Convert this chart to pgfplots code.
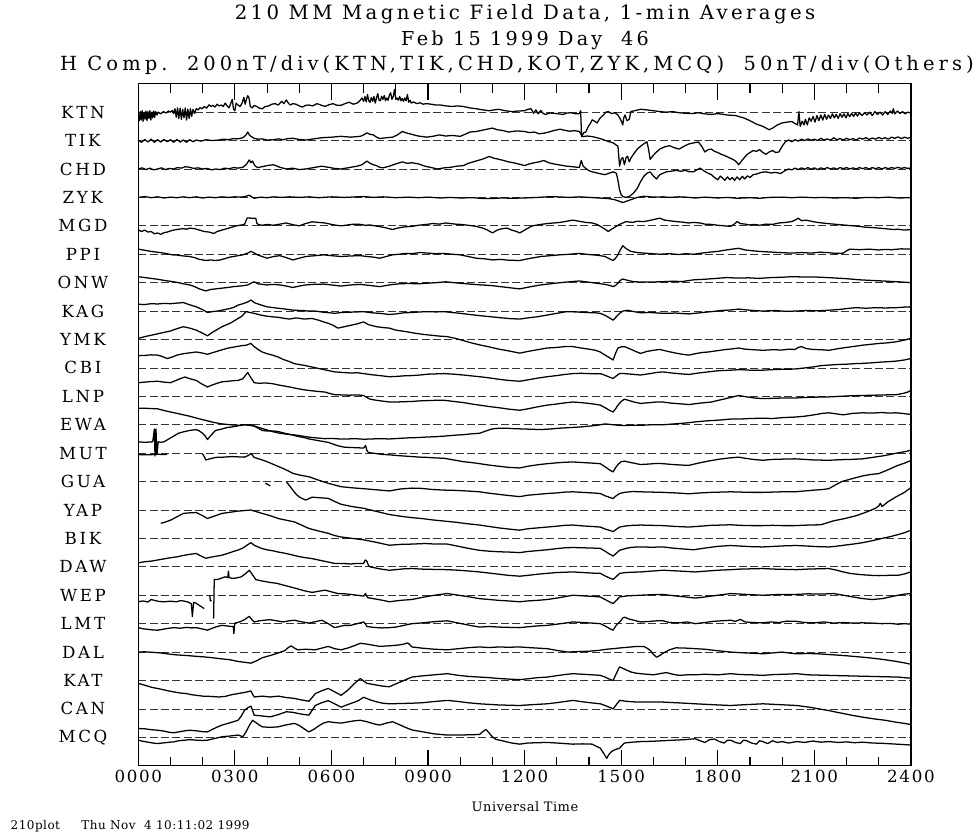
\documentclass[border=0pt]{standalone}
\usepackage{fontspec}
\setmainfont{DejaVu Serif}
\newfontfamily\ttlfont{DejaVu Serif}[LetterSpace=17]
\newfontfamily\widettl{DejaVu Serif}[LetterSpace=21]
\newfontfamily\tickfont{DejaVu Serif}[LetterSpace=10]
\newfontfamily\stafont{DejaVu Serif}[LetterSpace=16]
\newfontfamily\smallfont{DejaVu Serif}[LetterSpace=4]
\usepackage{pgfplots}
\pgfplotsset{compat=1.18}

\begin{document}
\begin{tikzpicture}
\useasboundingbox (0,0) rectangle (731.25pt,-624.75pt);
\begin{axis}[
    at={(103.7pt,-574.3pt)}, anchor=south west,
    scale only axis, width=579.5pt, height=511.5pt,
    xmin=0, xmax=2400, ymin=-23, ymax=1,
    xtick={0,300,...,2400},
    xticklabels={0000,0300,0600,0900,1200,1500,1800,2100,2400},
    minor x tick num=2,
    ytick={0,-1,...,-22},
    yticklabels={KTN,TIK,CHD,ZYK,MGD,PPI,ONW,KAG,YMK,CBI,LNP,EWA,MUT,GUA,YAP,BIK,DAW,WEP,LMT,DAL,KAT,CAN,MCQ},
    ytick style={draw=none},
    ymajorgrids,
    major grid style={black!80, dash pattern=on 6pt off 2.5pt, line width=0.6pt},
    tick align=inside,
    major tick length=12pt, minor tick length=6.75pt,
    tick style={black, line width=0.8pt},
    axis line style={line width=1pt},
    xticklabel style={font=\tickfont\fontsize{12.5}{15}\selectfont},
    yticklabel style={font=\stafont\fontsize{12.5}{15}\selectfont, anchor=center, xshift=-41.5pt},
    trace/.style={black, line width=0.95pt, line join=round},
]
% KTN
\addplot[trace] table[row sep=\\, y expr=\thisrowno{1}-0] {
0 -0.1\\ 3 -0.3\\ 6 0.02\\ 9 -0.28\\ 12 0.05\\ 15 -0.32\\ 18 0.0\\ 21 -0.25\\ 24 0.04\\ 27 -0.3\\ 30 0.02\\ 33 -0.22\\
36 0.05\\ 39 -0.28\\ 42 0.0\\ 45 -0.2\\ 48 0.04\\ 51 -0.18\\ 54 0.02\\ 58 -0.1\\ 62 0.0\\ 70 -0.06\\ 78 0.02\\ 86 -0.03\\
94 0.04\\ 100 0.0\\ 106 0.06\\ 110 -0.05\\ 114 0.12\\ 118 -0.18\\ 122 0.15\\ 126 -0.22\\ 130 0.14\\ 134 -0.25\\ 138 0.1\\
142 -0.2\\ 146 0.15\\ 150 -0.28\\ 154 0.1\\ 158 -0.22\\ 162 0.12\\ 166 -0.15\\ 170 0.1\\ 175 -0.05\\ 180 0.12\\ 186 0.08\\
192 0.16\\ 198 0.12\\ 205 0.2\\ 212 0.14\\ 220 0.26\\ 226 0.2\\ 232 0.24\\ 238 0.18\\ 245 0.28\\ 251 0.22\\ 258 0.25\\
264 0.2\\ 270 0.32\\ 276 0.22\\ 282 0.15\\ 287 0.3\\ 292 0.45\\ 296 0.1\\ 300 0.05\\ 304 0.32\\ 310 0.25\\ 316 0.2\\
322 0.3\\ 328 0.52\\ 332 0.28\\ 336 0.45\\ 340 0.58\\ 344 0.5\\ 348 0.2\\ 354 0.15\\ 360 0.24\\ 368 0.2\\ 376 0.14\\
385 0.12\\ 395 0.2\\ 405 0.22\\ 415 0.28\\ 425 0.3\\ 435 0.25\\ 445 0.38\\ 452 0.3\\ 460 0.43\\ 466 0.32\\ 472 0.25\\
480 0.3\\ 490 0.28\\ 500 0.22\\ 510 0.18\\ 520 0.24\\ 530 0.25\\ 542 0.22\\ 555 0.3\\ 567 0.25\\ 580 0.2\\ 592 0.26\\
605 0.3\\ 617 0.24\\ 630 0.24\\ 642 0.3\\ 655 0.35\\ 668 0.28\\ 680 0.32\\ 688 0.4\\ 695 0.5\\ 700 0.38\\ 704 0.55\\
708 0.36\\ 712 0.62\\ 716 0.4\\ 720 0.35\\ 724 0.52\\ 728 0.38\\ 732 0.55\\ 736 0.32\\ 740 0.5\\ 744 0.65\\ 748 0.42\\
752 0.4\\ 756 0.56\\ 760 0.45\\ 764 0.58\\ 768 0.4\\ 772 0.5\\ 776 0.42\\ 780 0.6\\ 784 0.68\\ 788 0.45\\ 792 0.55\\
796 0.8\\ 800 0.45\\ 804 0.5\\ 808 0.42\\ 812 0.55\\ 816 0.4\\ 820 0.48\\ 824 0.38\\ 828 0.5\\ 832 0.4\\ 836 0.62\\
840 0.35\\ 844 0.42\\ 848 0.32\\ 855 0.36\\ 865 0.3\\ 875 0.33\\ 885 0.28\\ 895 0.3\\ 910 0.28\\ 925 0.25\\ 940 0.25\\
955 0.22\\ 975 0.2\\ 990 0.22\\ 1010 0.2\\ 1030 0.15\\ 1050 0.12\\ 1070 0.08\\ 1090 0.05\\ 1105 0.08\\ 1120 0.1\\
1140 0.05\\ 1160 0.02\\ 1180 0.04\\ 1200 0.05\\ 1210 0.1\\ 1220 0.12\\ 1228 -0.04\\ 1235 0.08\\ 1242 -0.06\\ 1250 0.06\\
1258 -0.05\\ 1265 -0.08\\ 1278 -0.03\\ 1290 -0.04\\ 1305 -0.06\\ 1320 -0.08\\ 1332 -0.03\\ 1345 -0.02\\ 1358 -0.06\\
1370 -0.05\\ 1374 0.05\\ 1377 -0.86\\ 1384 -0.72\\ 1390 -0.7\\ 1398 -0.5\\ 1404 -0.4\\ 1410 -0.27\\ 1418 -0.32\\
1425 -0.38\\ 1435 -0.2\\ 1445 -0.1\\ 1452 0.0\\ 1460 0.02\\ 1470 -0.05\\ 1480 -0.02\\ 1490 -0.1\\ 1500 -0.3\\ 1505 -0.45\\
1508 -0.2\\ 1512 -0.1\\ 1518 -0.3\\ 1525 -0.25\\ 1530 0.02\\ 1545 0.06\\ 1560 0.1\\ 1580 0.08\\ 1600 0.05\\ 1620 0.02\\
1640 0.0\\ 1660 0.02\\ 1680 -0.02\\ 1700 -0.04\\ 1720 -0.05\\ 1740 -0.02\\ 1760 -0.06\\ 1780 -0.08\\ 1800 -0.05\\
1830 -0.1\\ 1855 -0.12\\ 1880 -0.2\\ 1900 -0.3\\ 1920 -0.42\\ 1940 -0.5\\ 1960 -0.62\\ 1972 -0.55\\ 1985 -0.45\\
2000 -0.38\\ 2015 -0.35\\ 2030 -0.33\\ 2040 -0.4\\ 2048 -0.45\\ 2052 0.02\\ 2056 -0.5\\ 2062 -0.32\\ 2068 -0.45\\
2072 -0.25\\ 2078 -0.45\\ 2084 -0.2\\ 2090 -0.32\\ 2096 -0.15\\ 2102 -0.35\\ 2108 -0.12\\ 2114 -0.3\\ 2120 -0.1\\
2126 -0.28\\ 2132 -0.08\\ 2138 -0.25\\ 2144 -0.1\\ 2150 -0.22\\ 2156 -0.06\\ 2162 -0.2\\ 2168 -0.08\\ 2174 -0.22\\
2180 -0.05\\ 2186 -0.18\\ 2192 -0.06\\ 2198 -0.2\\ 2204 -0.05\\ 2210 -0.16\\ 2216 -0.04\\ 2222 -0.15\\ 2228 -0.03\\
2234 -0.14\\ 2240 -0.02\\ 2248 -0.12\\ 2256 -0.02\\ 2264 -0.1\\ 2272 0.0\\ 2280 -0.12\\ 2288 0.02\\ 2296 -0.08\\
2304 0.0\\ 2312 -0.1\\ 2320 0.02\\ 2328 -0.08\\ 2336 0.04\\ 2342 -0.04\\ 2345 0.12\\ 2350 -0.06\\ 2358 0.04\\
2366 -0.05\\ 2374 0.02\\ 2382 -0.06\\ 2390 0.0\\ 2400 -0.03\\
};
% TIK
\addplot[trace] table[row sep=\\, y expr=\thisrowno{1}-1] {
0 0.0\\ 10 -0.06\\ 20 0.04\\ 30 -0.05\\ 40 0.05\\ 50 -0.06\\ 60 0.03\\ 70 -0.05\\ 80 0.04\\ 90 -0.04\\ 100 0.03\\
110 -0.06\\ 120 0.04\\ 130 -0.05\\ 140 0.02\\ 150 -0.06\\ 160 0.03\\ 170 -0.04\\ 180 0.02\\ 195 -0.02\\ 210 0.03\\
230 0.0\\ 250 0.02\\ 265 0.05\\ 280 0.03\\ 295 0.07\\ 310 0.06\\ 325 0.1\\ 335 0.2\\ 340 0.3\\ 345 0.2\\ 350 0.15\\
360 0.08\\ 370 0.05\\ 385 0.06\\ 400 0.02\\ 420 0.03\\ 435 0.06\\ 450 0.03\\ 465 0.07\\ 480 0.08\\ 500 0.04\\ 520 0.02\\
545 0.06\\ 570 0.1\\ 600 0.12\\ 630 0.15\\ 660 0.12\\ 690 0.15\\ 700 0.2\\ 710 0.27\\ 720 0.22\\ 730 0.2\\ 740 0.12\\
750 0.07\\ 770 0.1\\ 790 0.12\\ 805 0.2\\ 820 0.32\\ 835 0.26\\ 850 0.22\\ 862 0.18\\ 875 0.15\\ 885 0.14\\ 895 0.12\\
915 0.15\\ 935 0.2\\ 955 0.16\\ 975 0.18\\ 1000 0.15\\ 1015 0.22\\ 1030 0.3\\ 1050 0.32\\ 1075 0.38\\ 1100 0.44\\
1115 0.38\\ 1130 0.36\\ 1150 0.3\\ 1175 0.34\\ 1200 0.32\\ 1215 0.28\\ 1230 0.3\\ 1245 0.24\\ 1260 0.26\\ 1275 0.3\\
1290 0.35\\ 1310 0.4\\ 1325 0.36\\ 1340 0.33\\ 1355 0.35\\ 1370 0.32\\ 1380 0.14\\ 1395 0.16\\ 1410 0.14\\ 1425 0.1\\
1440 0.05\\ 1460 -0.03\\ 1475 -0.08\\ 1490 -0.2\\ 1495 -0.9\\ 1500 -0.65\\ 1505 -0.6\\ 1510 -0.85\\ 1515 -0.6\\
1520 -0.55\\ 1525 -0.75\\ 1530 -0.62\\ 1540 -0.45\\ 1550 -0.3\\ 1560 -0.2\\ 1570 -0.12\\ 1580 -0.04\\ 1585 -0.3\\
1590 -0.66\\ 1605 -0.45\\ 1620 -0.3\\ 1635 -0.22\\ 1650 -0.18\\ 1665 -0.25\\ 1680 -0.3\\ 1695 -0.2\\ 1710 -0.12\\
1725 -0.08\\ 1740 -0.05\\ 1750 -0.2\\ 1760 -0.4\\ 1770 -0.32\\ 1780 -0.3\\ 1790 -0.38\\ 1800 -0.42\\ 1810 -0.48\\
1820 -0.52\\ 1835 -0.6\\ 1850 -0.68\\ 1858 -0.75\\ 1865 -0.85\\ 1875 -0.7\\ 1890 -0.5\\ 1900 -0.42\\ 1910 -0.35\\
1920 -0.38\\ 1930 -0.32\\ 1940 -0.42\\ 1950 -0.48\\ 1960 -0.4\\ 1970 -0.35\\ 1980 -0.42\\ 1990 -0.4\\ 2000 -0.2\\
2010 -0.04\\ 2020 0.02\\ 2030 -0.04\\ 2040 0.03\\ 2050 -0.02\\ 2060 0.05\\ 2070 0.0\\ 2080 0.06\\ 2090 0.01\\ 2100 0.05\\
2110 0.0\\ 2120 0.08\\ 2130 0.02\\ 2140 0.06\\ 2150 0.01\\ 2160 0.1\\ 2170 0.03\\ 2180 0.07\\ 2190 0.02\\ 2200 0.08\\
2210 0.03\\ 2220 0.07\\ 2230 0.02\\ 2240 0.09\\ 2250 0.05\\ 2260 0.1\\ 2270 0.04\\ 2280 0.09\\ 2290 0.05\\ 2300 0.11\\
2310 0.06\\ 2320 0.1\\ 2330 0.05\\ 2340 0.12\\ 2350 0.08\\ 2360 0.13\\ 2370 0.07\\ 2380 0.12\\ 2390 0.08\\ 2400 0.12\\
};
% CHD
\addplot[trace] table[row sep=\\, y expr=\thisrowno{1}-2] {
0 0.0\\ 12 0.04\\ 24 -0.02\\ 36 0.03\\ 48 -0.03\\ 60 0.0\\ 72 0.04\\ 84 -0.02\\ 96 0.02\\ 110 0.0\\ 122 0.05\\ 134 0.03\\
146 0.08\\ 160 0.06\\ 172 0.02\\ 186 0.04\\ 200 0.0\\ 214 0.02\\ 228 -0.03\\ 240 0.0\\ 254 -0.02\\ 268 0.03\\ 282 0.01\\
296 0.05\\ 310 0.03\\ 325 0.06\\ 335 0.15\\ 345 0.32\\ 350 0.22\\ 355 0.28\\ 362 0.12\\ 370 0.05\\ 385 0.08\\ 400 0.12\\
420 0.15\\ 440 0.06\\ 460 0.0\\ 480 0.03\\ 500 -0.02\\ 520 0.0\\ 545 0.05\\ 570 0.1\\ 590 0.06\\ 610 0.02\\ 630 0.0\\
655 0.05\\ 680 0.1\\ 695 0.15\\ 710 0.28\\ 720 0.2\\ 730 0.15\\ 740 0.12\\ 750 0.06\\ 760 0.04\\ 780 0.1\\ 800 0.18\\
820 0.25\\ 835 0.2\\ 850 0.22\\ 870 0.18\\ 890 0.1\\ 910 0.05\\ 930 0.0\\ 950 0.04\\ 970 0.06\\ 990 0.1\\ 1010 0.12\\
1025 0.2\\ 1040 0.25\\ 1055 0.3\\ 1070 0.35\\ 1090 0.44\\ 1105 0.38\\ 1120 0.34\\ 1135 0.3\\ 1150 0.25\\ 1165 0.22\\
1180 0.18\\ 1200 0.12\\ 1215 0.18\\ 1230 0.22\\ 1245 0.25\\ 1260 0.3\\ 1275 0.22\\ 1290 0.18\\ 1310 0.14\\ 1330 0.1\\
1350 0.08\\ 1370 0.05\\ 1376 0.3\\ 1382 0.1\\ 1390 0.02\\ 1400 -0.06\\ 1410 -0.1\\ 1425 -0.14\\ 1440 -0.18\\ 1450 -0.2\\
1462 -0.15\\ 1475 -0.1\\ 1485 -0.15\\ 1490 -0.4\\ 1495 -0.74\\ 1500 -0.9\\ 1505 -0.97\\ 1515 -1.0\\ 1525 -0.97\\
1538 -0.85\\ 1550 -0.68\\ 1560 -0.45\\ 1570 -0.26\\ 1580 -0.15\\ 1590 -0.1\\ 1600 -0.25\\ 1610 -0.35\\ 1620 -0.2\\
1630 -0.15\\ 1640 -0.1\\ 1655 -0.08\\ 1670 -0.05\\ 1685 -0.08\\ 1700 -0.05\\ 1712 -0.1\\ 1725 -0.1\\ 1735 -0.03\\
1745 0.03\\ 1755 -0.05\\ 1765 -0.12\\ 1780 -0.2\\ 1790 -0.3\\ 1800 -0.38\\ 1808 -0.25\\ 1815 -0.32\\ 1822 -0.4\\
1830 -0.28\\ 1838 -0.38\\ 1845 -0.3\\ 1852 -0.4\\ 1860 -0.28\\ 1868 -0.38\\ 1876 -0.26\\ 1884 -0.35\\ 1892 -0.24\\
1900 -0.3\\ 1910 -0.2\\ 1920 -0.18\\ 1935 -0.12\\ 1950 -0.1\\ 1965 -0.14\\ 1980 -0.12\\ 1995 -0.16\\ 2010 -0.05\\
2020 0.0\\ 2030 -0.03\\ 2040 0.03\\ 2050 -0.02\\ 2060 0.04\\ 2070 -0.01\\ 2080 0.05\\ 2090 -0.01\\ 2100 0.04\\
2110 -0.02\\ 2120 0.04\\ 2130 0.0\\ 2140 0.05\\ 2150 0.0\\ 2160 0.04\\ 2170 -0.01\\ 2180 0.05\\ 2190 0.01\\ 2200 0.05\\
2210 0.0\\ 2220 0.04\\ 2230 0.0\\ 2240 0.05\\ 2250 0.01\\ 2260 0.05\\ 2270 0.0\\ 2280 0.05\\ 2290 0.01\\ 2300 0.05\\
2310 0.0\\ 2320 0.05\\ 2330 0.01\\ 2340 0.05\\ 2350 0.02\\ 2360 0.06\\ 2370 0.02\\ 2380 0.05\\ 2390 0.02\\ 2400 0.04\\
};
% ZYK
\addplot[trace] table[row sep=\\, y expr=\thisrowno{1}-3] {
0 0.0\\ 20 0.03\\ 40 -0.01\\ 60 0.02\\ 80 -0.02\\ 100 0.01\\ 120 -0.01\\ 140 0.02\\ 160 -0.01\\ 180 0.02\\ 200 -0.02\\
220 0.01\\ 240 -0.01\\ 260 0.02\\ 280 0.0\\ 300 0.02\\ 320 0.01\\ 335 0.04\\ 345 0.08\\ 352 0.02\\ 360 -0.03\\ 380 0.01\\
400 -0.01\\ 420 0.02\\ 445 0.0\\ 470 0.02\\ 500 0.0\\ 530 0.02\\ 560 -0.01\\ 600 0.02\\ 640 0.0\\ 680 0.02\\ 700 0.03\\
730 0.0\\ 760 0.02\\ 800 -0.01\\ 840 0.01\\ 870 -0.01\\ 900 0.01\\ 940 -0.02\\ 970 0.0\\ 1000 -0.02\\ 1040 -0.01\\
1070 -0.04\\ 1100 -0.04\\ 1130 -0.02\\ 1160 -0.03\\ 1200 -0.02\\ 1240 0.0\\ 1270 0.02\\ 1300 0.02\\ 1340 0.0\\
1370 0.02\\ 1400 0.0\\ 1430 -0.02\\ 1460 -0.04\\ 1480 -0.08\\ 1495 -0.14\\ 1505 -0.18\\ 1520 -0.12\\ 1535 -0.06\\
1550 0.0\\ 1570 0.04\\ 1600 0.01\\ 1630 0.02\\ 1650 0.0\\ 1680 0.02\\ 1700 0.01\\ 1730 -0.02\\ 1760 0.01\\ 1800 -0.02\\
1830 0.0\\ 1860 -0.03\\ 1900 -0.01\\ 1930 -0.03\\ 1960 0.0\\ 2000 0.01\\ 2030 -0.01\\ 2060 0.01\\ 2100 -0.01\\
2130 0.0\\ 2160 -0.02\\ 2200 -0.01\\ 2230 -0.03\\ 2260 0.0\\ 2300 -0.01\\ 2330 0.01\\ 2360 -0.02\\ 2400 -0.01\\
};
% MGD
\addplot[trace] table[row sep=\\, y expr=\thisrowno{1}-4] {
0 -0.14\\ 10 -0.2\\ 20 -0.15\\ 30 -0.22\\ 40 -0.2\\ 50 -0.28\\ 60 -0.25\\ 70 -0.3\\ 80 -0.24\\ 90 -0.22\\ 100 -0.18\\
110 -0.15\\ 125 -0.12\\ 140 -0.1\\ 150 -0.12\\ 160 -0.08\\ 175 -0.1\\ 190 -0.15\\ 205 -0.2\\ 220 -0.22\\ 235 -0.27\\
245 -0.2\\ 260 -0.15\\ 275 -0.1\\ 290 -0.05\\ 305 0.0\\ 315 0.02\\ 330 0.05\\ 338 0.27\\ 345 0.28\\ 355 0.26\\ 365 0.27\\
368 0.1\\ 372 0.05\\ 385 0.02\\ 400 0.05\\ 420 0.02\\ 440 0.06\\ 460 0.1\\ 480 0.04\\ 500 0.0\\ 520 0.08\\ 540 0.14\\
560 0.12\\ 580 0.1\\ 600 0.05\\ 615 0.02\\ 630 0.0\\ 650 0.03\\ 670 0.06\\ 690 0.05\\ 705 0.02\\ 720 0.03\\ 745 -0.02\\
765 -0.06\\ 790 -0.13\\ 805 -0.08\\ 820 -0.05\\ 835 -0.03\\ 850 -0.02\\ 870 0.02\\ 895 0.05\\ 915 0.08\\ 935 0.06\\
955 0.1\\ 970 0.08\\ 985 0.06\\ 1000 0.05\\ 1025 0.02\\ 1050 -0.02\\ 1070 -0.08\\ 1085 -0.15\\ 1100 -0.25\\ 1115 -0.15\\
1130 -0.1\\ 1145 -0.08\\ 1160 -0.15\\ 1175 -0.2\\ 1185 -0.25\\ 1200 -0.15\\ 1215 -0.05\\ 1225 0.0\\ 1245 0.04\\
1270 0.08\\ 1290 0.1\\ 1310 0.12\\ 1330 0.16\\ 1350 0.2\\ 1370 0.16\\ 1390 0.12\\ 1410 0.1\\ 1425 0.05\\ 1440 -0.05\\
1450 -0.12\\ 1460 -0.2\\ 1470 -0.12\\ 1480 -0.05\\ 1495 0.05\\ 1515 0.15\\ 1535 0.12\\ 1550 0.16\\ 1570 0.15\\
1585 0.18\\ 1600 0.22\\ 1620 0.27\\ 1635 0.2\\ 1650 0.18\\ 1670 0.15\\ 1690 0.13\\ 1710 0.1\\ 1725 0.12\\ 1745 0.1\\
1760 0.06\\ 1780 0.05\\ 1800 0.02\\ 1820 0.0\\ 1840 -0.02\\ 1850 0.05\\ 1860 0.15\\ 1870 0.08\\ 1885 0.06\\ 1900 0.03\\
1915 0.05\\ 1930 0.02\\ 1950 0.06\\ 1970 0.05\\ 1990 0.1\\ 2010 0.12\\ 2030 0.15\\ 2040 0.2\\ 2050 0.27\\ 2060 0.18\\
2075 0.2\\ 2095 0.15\\ 2110 0.12\\ 2125 0.1\\ 2140 0.08\\ 2160 0.06\\ 2180 0.04\\ 2200 0.02\\ 2220 0.0\\ 2240 -0.02\\
2260 -0.05\\ 2280 -0.06\\ 2300 -0.08\\ 2320 -0.1\\ 2345 -0.13\\ 2360 -0.12\\ 2380 -0.15\\ 2400 -0.13\\
};
% PPI
\addplot[trace] table[row sep=\\, y expr=\thisrowno{1}-5] {
0 0.18\\ 20 0.14\\ 40 0.1\\ 60 0.07\\ 80 0.04\\ 105 -0.02\\ 120 -0.03\\ 140 -0.06\\ 160 -0.08\\ 175 -0.12\\ 190 -0.18\\
210 -0.22\\ 225 -0.2\\ 240 -0.22\\ 255 -0.2\\ 270 -0.15\\ 285 -0.1\\ 295 -0.08\\ 310 -0.05\\ 325 -0.02\\ 340 0.04\\
350 0.1\\ 358 0.06\\ 370 -0.02\\ 385 -0.08\\ 400 -0.14\\ 420 -0.08\\ 440 -0.05\\ 460 -0.12\\ 480 -0.2\\ 500 -0.14\\
520 -0.08\\ 540 -0.06\\ 560 -0.04\\ 575 -0.02\\ 600 -0.05\\ 630 -0.08\\ 660 -0.06\\ 690 -0.05\\ 710 -0.08\\ 730 -0.1\\
750 -0.14\\ 770 -0.08\\ 790 -0.02\\ 810 0.0\\ 830 0.03\\ 850 0.02\\ 875 0.06\\ 900 0.04\\ 925 0.02\\ 950 0.03\\
975 0.0\\ 1000 -0.02\\ 1025 -0.08\\ 1050 -0.14\\ 1075 -0.16\\ 1100 -0.2\\ 1125 -0.18\\ 1150 -0.21\\ 1185 -0.22\\
1210 -0.16\\ 1230 -0.12\\ 1250 -0.08\\ 1280 -0.05\\ 1310 -0.02\\ 1340 0.0\\ 1370 0.03\\ 1390 0.0\\ 1410 -0.02\\
1430 -0.04\\ 1450 -0.08\\ 1462 -0.15\\ 1475 -0.22\\ 1482 -0.15\\ 1490 -0.02\\ 1497 0.15\\ 1505 0.3\\ 1515 0.2\\
1530 0.1\\ 1550 0.06\\ 1570 0.04\\ 1595 0.02\\ 1620 0.0\\ 1650 0.02\\ 1680 -0.01\\ 1700 0.02\\ 1725 0.0\\ 1750 0.04\\
1780 0.08\\ 1800 0.1\\ 1820 0.14\\ 1845 0.18\\ 1865 0.21\\ 1885 0.15\\ 1910 0.12\\ 1930 0.1\\ 1960 0.08\\ 1990 0.06\\
2010 0.05\\ 2030 0.04\\ 2060 0.06\\ 2090 0.04\\ 2115 0.07\\ 2140 0.06\\ 2165 0.03\\ 2190 0.04\\ 2200 0.12\\ 2210 0.18\\
2240 0.16\\ 2270 0.18\\ 2300 0.15\\ 2320 0.17\\ 2340 0.16\\ 2370 0.19\\ 2400 0.18\\
};
% ONW
\addplot[trace] table[row sep=\\, y expr=\thisrowno{1}-6] {
0 0.21\\ 20 0.18\\ 40 0.15\\ 60 0.12\\ 80 0.08\\ 105 0.04\\ 125 0.0\\ 140 -0.04\\ 160 -0.08\\ 175 -0.14\\ 190 -0.22\\
210 -0.29\\ 225 -0.24\\ 240 -0.22\\ 255 -0.2\\ 270 -0.18\\ 285 -0.16\\ 295 -0.14\\ 315 -0.12\\ 330 -0.1\\ 340 -0.08\\
350 -0.02\\ 360 0.03\\ 372 -0.04\\ 385 -0.06\\ 400 -0.08\\ 420 -0.06\\ 440 -0.08\\ 460 -0.12\\ 480 -0.17\\ 500 -0.12\\
520 -0.08\\ 545 -0.06\\ 575 -0.05\\ 600 -0.08\\ 630 -0.12\\ 660 -0.08\\ 690 -0.06\\ 720 -0.1\\ 750 -0.14\\ 780 -0.08\\
810 -0.04\\ 840 -0.03\\ 870 -0.04\\ 895 -0.02\\ 925 0.0\\ 955 0.03\\ 980 0.0\\ 1000 -0.02\\ 1030 -0.05\\ 1065 -0.08\\
1095 -0.1\\ 1125 -0.14\\ 1155 -0.18\\ 1185 -0.22\\ 1215 -0.15\\ 1250 -0.08\\ 1280 -0.04\\ 1310 0.0\\ 1340 0.03\\
1370 0.06\\ 1390 0.03\\ 1410 0.0\\ 1430 -0.03\\ 1450 -0.06\\ 1465 -0.1\\ 1475 -0.14\\ 1482 -0.1\\ 1490 -0.02\\
1497 0.08\\ 1505 0.13\\ 1520 0.08\\ 1540 0.03\\ 1580 0.02\\ 1620 0.03\\ 1660 0.05\\ 1690 0.04\\ 1725 0.1\\ 1760 0.12\\
1795 0.15\\ 1830 0.18\\ 1860 0.16\\ 1895 0.17\\ 1930 0.15\\ 1965 0.18\\ 2000 0.19\\ 2030 0.21\\ 2065 0.2\\ 2100 0.2\\
2140 0.18\\ 2170 0.16\\ 2200 0.14\\ 2240 0.1\\ 2275 0.08\\ 2310 0.06\\ 2345 0.04\\ 2375 0.02\\ 2400 0.0\\
};
% KAG
\addplot[trace] table[row sep=\\, y expr=\thisrowno{1}-7] {
0 0.24\\ 20 0.23\\ 40 0.26\\ 60 0.25\\ 80 0.27\\ 100 0.26\\ 120 0.28\\ 140 0.3\\ 160 0.22\\ 180 0.15\\ 200 0.05\\
215 -0.05\\ 230 -0.02\\ 245 0.0\\ 260 0.03\\ 280 0.08\\ 295 0.12\\ 310 0.21\\ 325 0.26\\ 340 0.32\\ 350 0.39\\ 360 0.3\\
372 0.25\\ 385 0.2\\ 400 0.15\\ 420 0.12\\ 435 0.1\\ 450 0.08\\ 470 0.05\\ 485 0.03\\ 510 0.02\\ 530 0.0\\ 550 0.0\\
575 -0.04\\ 595 -0.06\\ 610 -0.08\\ 630 -0.05\\ 655 -0.04\\ 680 -0.03\\ 700 -0.02\\ 725 -0.06\\ 750 -0.08\\ 780 -0.12\\
800 -0.1\\ 825 -0.06\\ 850 -0.05\\ 875 -0.03\\ 900 -0.02\\ 925 -0.03\\ 950 -0.02\\ 975 -0.05\\ 1000 -0.08\\ 1030 -0.12\\
1060 -0.16\\ 1095 -0.2\\ 1130 -0.24\\ 1160 -0.27\\ 1185 -0.28\\ 1210 -0.24\\ 1240 -0.2\\ 1270 -0.14\\ 1300 -0.08\\
1330 -0.02\\ 1360 -0.03\\ 1390 -0.05\\ 1420 -0.06\\ 1435 -0.08\\ 1450 -0.15\\ 1465 -0.25\\ 1475 -0.32\\ 1485 -0.2\\
1495 -0.08\\ 1505 0.0\\ 1520 0.03\\ 1540 -0.02\\ 1560 -0.06\\ 1590 -0.05\\ 1630 -0.08\\ 1670 -0.07\\ 1710 -0.1\\
1745 -0.06\\ 1780 -0.02\\ 1810 0.02\\ 1840 0.04\\ 1865 0.07\\ 1900 0.03\\ 1940 0.0\\ 1980 0.02\\ 2010 -0.01\\ 2040 0.0\\
2080 0.02\\ 2110 0.01\\ 2145 0.03\\ 2180 0.06\\ 2210 0.1\\ 2230 0.12\\ 2260 0.1\\ 2290 0.12\\ 2320 0.11\\ 2355 0.12\\
2380 0.14\\ 2400 0.15\\
};
% YMK
\addplot[trace] table[row sep=\\, y expr=\thisrowno{1}-8] {
0 0.04\\ 20 0.1\\ 40 0.15\\ 60 0.2\\ 80 0.25\\ 100 0.3\\ 120 0.38\\ 140 0.45\\ 160 0.4\\ 180 0.33\\ 200 0.22\\ 215 0.13\\
230 0.25\\ 245 0.35\\ 260 0.45\\ 275 0.52\\ 290 0.6\\ 310 0.74\\ 322 0.82\\ 335 0.98\\ 347 0.95\\ 360 0.92\\ 380 0.86\\
400 0.82\\ 415 0.8\\ 435 0.78\\ 455 0.74\\ 470 0.72\\ 490 0.76\\ 515 0.72\\ 540 0.74\\ 560 0.68\\ 575 0.62\\ 590 0.57\\
605 0.5\\ 620 0.4\\ 640 0.45\\ 660 0.5\\ 680 0.55\\ 700 0.62\\ 715 0.52\\ 730 0.48\\ 740 0.45\\ 760 0.42\\ 780 0.4\\
800 0.33\\ 830 0.28\\ 860 0.22\\ 885 0.18\\ 910 0.15\\ 935 0.12\\ 960 0.1\\ 985 0.04\\ 1010 -0.04\\ 1035 -0.12\\
1060 -0.19\\ 1090 -0.26\\ 1120 -0.34\\ 1150 -0.4\\ 1185 -0.48\\ 1210 -0.42\\ 1240 -0.36\\ 1270 -0.3\\ 1300 -0.28\\
1325 -0.25\\ 1350 -0.25\\ 1375 -0.3\\ 1400 -0.34\\ 1420 -0.38\\ 1435 -0.44\\ 1450 -0.55\\ 1465 -0.65\\ 1475 -0.72\\
1482 -0.5\\ 1490 -0.3\\ 1500 -0.26\\ 1510 -0.25\\ 1525 -0.32\\ 1545 -0.42\\ 1560 -0.49\\ 1580 -0.42\\ 1600 -0.38\\
1620 -0.35\\ 1645 -0.42\\ 1670 -0.48\\ 1690 -0.52\\ 1710 -0.55\\ 1730 -0.5\\ 1750 -0.46\\ 1770 -0.44\\ 1795 -0.4\\
1820 -0.36\\ 1845 -0.33\\ 1865 -0.3\\ 1885 -0.34\\ 1910 -0.36\\ 1940 -0.38\\ 1970 -0.36\\ 2000 -0.37\\ 2020 -0.34\\
2040 -0.35\\ 2050 -0.28\\ 2060 -0.25\\ 2075 -0.32\\ 2095 -0.35\\ 2120 -0.36\\ 2145 -0.38\\ 2175 -0.32\\ 2200 -0.28\\
2225 -0.24\\ 2250 -0.2\\ 2275 -0.17\\ 2300 -0.14\\ 2325 -0.12\\ 2355 -0.08\\ 2380 -0.02\\ 2400 0.04\\
};
% CBI
\addplot[trace] table[row sep=\\, y expr=\thisrowno{1}-9] {
0 0.43\\ 20 0.44\\ 40 0.46\\ 60 0.45\\ 75 0.4\\ 90 0.33\\ 105 0.38\\ 120 0.45\\ 140 0.5\\ 160 0.53\\ 180 0.56\\ 200 0.52\\
215 0.48\\ 235 0.55\\ 255 0.62\\ 280 0.7\\ 300 0.74\\ 320 0.78\\ 335 0.8\\ 350 0.86\\ 360 0.75\\ 372 0.65\\ 385 0.56\\
400 0.5\\ 420 0.44\\ 435 0.38\\ 450 0.3\\ 470 0.22\\ 485 0.15\\ 500 0.12\\ 520 0.08\\ 540 0.03\\ 560 -0.02\\ 585 -0.08\\
610 -0.14\\ 635 -0.16\\ 660 -0.18\\ 680 -0.17\\ 700 -0.2\\ 725 -0.24\\ 750 -0.27\\ 780 -0.31\\ 800 -0.3\\ 825 -0.28\\
850 -0.27\\ 875 -0.25\\ 900 -0.22\\ 925 -0.21\\ 950 -0.2\\ 980 -0.22\\ 1010 -0.25\\ 1035 -0.28\\ 1060 -0.31\\
1090 -0.35\\ 1120 -0.4\\ 1150 -0.44\\ 1185 -0.47\\ 1210 -0.42\\ 1240 -0.36\\ 1270 -0.31\\ 1300 -0.27\\ 1325 -0.23\\
1350 -0.2\\ 1375 -0.19\\ 1400 -0.2\\ 1420 -0.21\\ 1435 -0.2\\ 1450 -0.26\\ 1465 -0.33\\ 1475 -0.37\\ 1485 -0.28\\
1495 -0.2\\ 1510 -0.2\\ 1530 -0.22\\ 1560 -0.25\\ 1590 -0.2\\ 1610 -0.16\\ 1630 -0.14\\ 1650 -0.17\\ 1675 -0.2\\
1710 -0.23\\ 1740 -0.18\\ 1770 -0.14\\ 1800 -0.1\\ 1840 -0.08\\ 1870 -0.06\\ 1900 -0.08\\ 1940 -0.08\\ 1970 -0.06\\
2000 -0.05\\ 2040 -0.04\\ 2070 0.0\\ 2100 0.04\\ 2120 0.08\\ 2145 0.1\\ 2170 0.12\\ 2200 0.13\\ 2225 0.15\\ 2250 0.16\\
2280 0.18\\ 2300 0.2\\ 2330 0.22\\ 2355 0.24\\ 2380 0.28\\ 2400 0.33\\
};
% LNP
\addplot[trace] table[row sep=\\, y expr=\thisrowno{1}-10] {
0 0.48\\ 20 0.5\\ 40 0.52\\ 60 0.53\\ 80 0.5\\ 100 0.48\\ 115 0.55\\ 130 0.62\\ 145 0.68\\ 160 0.62\\ 180 0.56\\
195 0.45\\ 215 0.33\\ 230 0.4\\ 245 0.46\\ 260 0.51\\ 280 0.53\\ 295 0.55\\ 310 0.56\\ 325 0.62\\ 340 0.84\\ 350 0.65\\
360 0.48\\ 375 0.46\\ 395 0.47\\ 415 0.45\\ 435 0.4\\ 455 0.36\\ 470 0.33\\ 490 0.28\\ 515 0.23\\ 535 0.2\\ 560 0.17\\
580 0.15\\ 595 0.1\\ 610 0.06\\ 630 0.05\\ 655 0.04\\ 680 0.05\\ 700 0.03\\ 710 -0.04\\ 720 -0.1\\ 740 -0.14\\
760 -0.17\\ 780 -0.2\\ 800 -0.2\\ 825 -0.19\\ 850 -0.18\\ 875 -0.16\\ 900 -0.15\\ 925 -0.14\\ 950 -0.14\\ 980 -0.18\\
1010 -0.22\\ 1035 -0.27\\ 1060 -0.31\\ 1090 -0.36\\ 1120 -0.4\\ 1150 -0.45\\ 1185 -0.49\\ 1210 -0.44\\ 1240 -0.37\\
1270 -0.31\\ 1300 -0.27\\ 1325 -0.23\\ 1350 -0.2\\ 1375 -0.22\\ 1400 -0.25\\ 1420 -0.28\\ 1435 -0.31\\ 1450 -0.4\\
1465 -0.5\\ 1475 -0.55\\ 1482 -0.45\\ 1490 -0.31\\ 1500 -0.18\\ 1510 -0.1\\ 1525 -0.15\\ 1540 -0.2\\ 1560 -0.25\\
1590 -0.22\\ 1610 -0.2\\ 1630 -0.2\\ 1655 -0.24\\ 1680 -0.26\\ 1710 -0.29\\ 1745 -0.24\\ 1780 -0.2\\ 1810 -0.12\\
1840 -0.04\\ 1865 0.03\\ 1890 -0.02\\ 1915 -0.06\\ 1940 -0.08\\ 1970 -0.07\\ 2000 -0.06\\ 2040 -0.06\\ 2070 -0.04\\
2100 -0.03\\ 2145 -0.02\\ 2180 0.0\\ 2215 0.02\\ 2250 0.03\\ 2285 0.04\\ 2320 0.05\\ 2355 0.06\\ 2375 0.1\\ 2390 0.15\\
2400 0.21\\
};
% EWA
\addplot[trace] table[row sep=\\, y expr=\thisrowno{1}-11] {
0 0.58\\ 20 0.58\\ 40 0.57\\ 60 0.56\\ 80 0.5\\ 100 0.45\\ 120 0.4\\ 140 0.35\\ 160 0.3\\ 185 0.22\\ 210 0.15\\ 235 0.08\\
260 0.03\\ 285 0.0\\ 310 -0.02\\ 330 0.0\\ 350 0.0\\ 370 -0.08\\ 390 -0.15\\ 405 -0.2\\ 420 -0.25\\ 440 -0.3\\ 460 -0.33\\
480 -0.35\\ 500 -0.38\\ 520 -0.42\\ 540 -0.45\\ 560 -0.47\\ 580 -0.49\\ 600 -0.48\\ 625 -0.5\\ 650 -0.5\\ 675 -0.49\\
700 -0.51\\ 725 -0.5\\ 750 -0.49\\ 780 -0.5\\ 810 -0.48\\ 840 -0.46\\ 870 -0.45\\ 900 -0.43\\ 925 -0.42\\ 950 -0.4\\
980 -0.37\\ 1010 -0.35\\ 1035 -0.32\\ 1060 -0.3\\ 1080 -0.22\\ 1095 -0.16\\ 1110 -0.13\\ 1140 -0.12\\ 1170 -0.14\\
1200 -0.15\\ 1225 -0.16\\ 1250 -0.17\\ 1280 -0.15\\ 1310 -0.12\\ 1340 -0.1\\ 1370 -0.08\\ 1400 -0.05\\ 1425 -0.02\\
1450 0.03\\ 1475 0.0\\ 1500 -0.03\\ 1530 -0.02\\ 1560 -0.02\\ 1595 0.0\\ 1630 0.0\\ 1665 0.03\\ 1700 0.06\\ 1730 0.1\\
1770 0.14\\ 1800 0.16\\ 1840 0.2\\ 1870 0.2\\ 1900 0.22\\ 1940 0.23\\ 1970 0.22\\ 2000 0.25\\ 2040 0.27\\ 2070 0.3\\
2100 0.35\\ 2125 0.4\\ 2145 0.42\\ 2170 0.38\\ 2190 0.35\\ 2220 0.4\\ 2250 0.42\\ 2280 0.41\\ 2310 0.43\\ 2330 0.41\\
2355 0.42\\ 2380 0.39\\ 2400 0.36\\
};
% MUT
\addplot[trace] table[row sep=\\, y expr=\thisrowno{1}-12] {
0 0.4\\ 20 0.38\\ 45 0.4\\ 50 0.85\\ 52 -0.1\\ 55 0.85\\ 58 -0.05\\ 62 0.4\\ 70 0.38\\ 80 0.4\\ 95 0.5\\ 110 0.6\\
125 0.7\\ 140 0.75\\ 160 0.8\\ 180 0.83\\ 190 0.78\\ 200 0.7\\ 208 0.6\\ 215 0.48\\ 225 0.62\\ 240 0.8\\ 260 0.85\\
275 0.9\\ 290 0.92\\ 310 0.96\\ 330 1.0\\ 345 0.98\\ 360 0.95\\ 372 0.88\\ 385 0.8\\ 400 0.78\\ 420 0.78\\ 435 0.76\\
455 0.7\\ 470 0.66\\ 485 0.62\\ 500 0.58\\ 515 0.55\\ 530 0.5\\ 550 0.46\\ 570 0.42\\ 590 0.38\\ 605 0.32\\ 620 0.26\\
640 0.21\\ 660 0.2\\ 680 0.19\\ 700 0.18\\ 706 0.27\\ 710 0.1\\ 715 0.02\\ 730 0.0\\ 755 -0.04\\ 780 -0.06\\ 800 -0.08\\
825 -0.1\\ 850 -0.12\\ 875 -0.14\\ 900 -0.15\\ 925 -0.17\\ 950 -0.18\\ 980 -0.24\\ 1010 -0.3\\ 1035 -0.33\\ 1060 -0.37\\
1090 -0.42\\ 1120 -0.46\\ 1150 -0.5\\ 1185 -0.52\\ 1210 -0.46\\ 1240 -0.41\\ 1270 -0.37\\ 1300 -0.34\\ 1325 -0.32\\
1350 -0.31\\ 1380 -0.33\\ 1410 -0.35\\ 1435 -0.37\\ 1450 -0.48\\ 1465 -0.6\\ 1475 -0.66\\ 1482 -0.52\\ 1490 -0.4\\
1500 -0.3\\ 1510 -0.28\\ 1530 -0.33\\ 1560 -0.4\\ 1590 -0.38\\ 1610 -0.36\\ 1630 -0.37\\ 1660 -0.4\\ 1690 -0.42\\
1710 -0.43\\ 1740 -0.35\\ 1770 -0.28\\ 1800 -0.22\\ 1835 -0.17\\ 1865 -0.14\\ 1885 -0.18\\ 1910 -0.22\\ 1940 -0.25\\
1970 -0.22\\ 2000 -0.21\\ 2040 -0.2\\ 2070 -0.22\\ 2100 -0.24\\ 2145 -0.25\\ 2180 -0.23\\ 2215 -0.22\\ 2250 -0.2\\
2280 -0.15\\ 2310 -0.1\\ 2330 -0.06\\ 2355 0.0\\ 2380 0.05\\ 2400 0.1\\
};
% GUA
\addplot[trace] table[row sep=\\, y expr=\thisrowno{1}-13] {
0 0.95\\ 30 0.94\\ 60 0.96\\ 90 0.95\\
};
\addplot[trace] table[row sep=\\, y expr=\thisrowno{1}-13] {
200 0.97\\ 205 0.88\\ 210 0.76\\ 222 0.8\\ 240 0.85\\ 265 0.86\\ 290 0.88\\ 310 0.87\\ 330 0.86\\ 342 0.92\\ 350 0.99\\
355 0.92\\ 360 0.85\\ 380 0.78\\ 400 0.7\\ 425 0.58\\ 450 0.46\\ 465 0.38\\ 480 0.29\\ 505 0.22\\ 530 0.17\\ 560 0.05\\
590 -0.06\\ 610 -0.12\\ 630 -0.18\\ 665 -0.22\\ 700 -0.25\\ 740 -0.29\\ 780 -0.33\\ 815 -0.26\\ 850 -0.23\\ 880 -0.24\\
915 -0.28\\ 950 -0.3\\ 985 -0.31\\ 1020 -0.33\\ 1060 -0.36\\ 1090 -0.41\\ 1120 -0.45\\ 1150 -0.49\\ 1185 -0.53\\
1210 -0.48\\ 1240 -0.45\\ 1270 -0.42\\ 1300 -0.4\\ 1325 -0.37\\ 1350 -0.36\\ 1380 -0.38\\ 1410 -0.4\\ 1435 -0.42\\
1450 -0.5\\ 1465 -0.56\\ 1475 -0.6\\ 1482 -0.52\\ 1495 -0.42\\ 1510 -0.38\\ 1535 -0.35\\ 1560 -0.36\\ 1595 -0.37\\
1630 -0.38\\ 1670 -0.4\\ 1710 -0.43\\ 1745 -0.4\\ 1780 -0.38\\ 1810 -0.37\\ 1840 -0.36\\ 1870 -0.37\\ 1905 -0.38\\
1940 -0.38\\ 1970 -0.37\\ 2000 -0.36\\ 2040 -0.36\\ 2070 -0.33\\ 2100 -0.3\\ 2125 -0.28\\ 2145 -0.25\\ 2165 -0.12\\
2185 0.0\\ 2210 0.08\\ 2230 0.14\\ 2250 0.2\\ 2275 0.25\\ 2300 0.28\\ 2330 0.42\\ 2355 0.55\\ 2380 0.65\\ 2400 0.74\\
};
% YAP
\addplot[trace] table[row sep=\\, y expr=\thisrowno{1}-14] {
395 0.94\\ 402 0.9\\ 410 0.85\\
};
\addplot[trace] table[row sep=\\, y expr=\thisrowno{1}-14] {
460 0.99\\ 470 0.85\\ 480 0.7\\ 490 0.56\\ 500 0.46\\ 510 0.4\\ 520 0.35\\ 530 0.4\\ 540 0.45\\ 565 0.43\\ 590 0.41\\
610 0.3\\ 630 0.2\\ 665 0.12\\ 700 0.06\\ 740 -0.05\\ 780 -0.16\\ 815 -0.22\\ 850 -0.27\\ 880 -0.3\\ 915 -0.35\\
950 -0.39\\ 985 -0.43\\ 1020 -0.48\\ 1060 -0.53\\ 1090 -0.58\\ 1120 -0.63\\ 1150 -0.67\\ 1185 -0.71\\ 1210 -0.66\\
1240 -0.63\\ 1270 -0.6\\ 1300 -0.57\\ 1325 -0.54\\ 1350 -0.53\\ 1380 -0.56\\ 1410 -0.58\\ 1435 -0.6\\ 1450 -0.67\\
1465 -0.72\\ 1475 -0.76\\ 1485 -0.68\\ 1495 -0.6\\ 1515 -0.56\\ 1535 -0.54\\ 1560 -0.53\\ 1595 -0.54\\ 1630 -0.55\\
1670 -0.58\\ 1710 -0.6\\ 1745 -0.57\\ 1780 -0.54\\ 1810 -0.53\\ 1840 -0.52\\ 1870 -0.54\\ 1905 -0.55\\ 1940 -0.55\\
1970 -0.54\\ 2000 -0.55\\ 2040 -0.55\\ 2080 -0.53\\ 2120 -0.52\\ 2140 -0.45\\ 2160 -0.38\\ 2195 -0.3\\ 2230 -0.2\\
2260 -0.08\\ 2290 0.06\\ 2300 0.14\\ 2305 0.24\\ 2310 0.12\\ 2330 0.3\\ 2355 0.47\\ 2380 0.62\\ 2400 0.79\\
};
% BIK
\addplot[trace] table[row sep=\\, y expr=\thisrowno{1}-15] {
70 0.53\\ 85 0.58\\ 100 0.64\\ 120 0.76\\ 140 0.88\\ 160 0.9\\ 180 0.91\\ 200 0.8\\ 215 0.7\\ 235 0.78\\ 260 0.88\\
285 0.92\\ 310 0.96\\ 330 0.98\\ 350 1.0\\ 367 0.94\\ 385 0.88\\ 410 0.8\\ 435 0.7\\ 460 0.64\\ 485 0.58\\ 505 0.48\\
530 0.35\\ 560 0.26\\ 590 0.18\\ 610 0.1\\ 630 0.05\\ 665 0.0\\ 700 -0.05\\ 740 -0.14\\ 780 -0.24\\ 815 -0.21\\
850 -0.2\\ 890 -0.18\\ 925 -0.2\\ 960 -0.2\\ 995 -0.28\\ 1030 -0.36\\ 1060 -0.42\\ 1090 -0.45\\ 1120 -0.47\\
1150 -0.48\\ 1185 -0.5\\ 1210 -0.46\\ 1240 -0.43\\ 1270 -0.4\\ 1300 -0.36\\ 1325 -0.33\\ 1350 -0.32\\ 1380 -0.33\\
1410 -0.34\\ 1435 -0.35\\ 1450 -0.45\\ 1465 -0.56\\ 1475 -0.62\\ 1485 -0.52\\ 1495 -0.42\\ 1515 -0.35\\ 1535 -0.31\\
1560 -0.3\\ 1595 -0.31\\ 1630 -0.3\\ 1660 -0.34\\ 1690 -0.37\\ 1725 -0.4\\ 1760 -0.34\\ 1800 -0.28\\ 1840 -0.25\\
1870 -0.27\\ 1905 -0.29\\ 1940 -0.3\\ 1975 -0.28\\ 2010 -0.26\\ 2045 -0.25\\ 2080 -0.27\\ 2110 -0.29\\ 2145 -0.3\\
2165 -0.28\\ 2185 -0.25\\ 2220 -0.2\\ 2250 -0.15\\ 2280 -0.08\\ 2310 0.0\\ 2335 0.06\\ 2355 0.12\\ 2380 0.2\\ 2400 0.29\\
};
% DAW
\addplot[trace] table[row sep=\\, y expr=\thisrowno{1}-16] {
0 0.14\\ 20 0.18\\ 40 0.2\\ 60 0.24\\ 80 0.28\\ 100 0.32\\ 120 0.35\\ 140 0.4\\ 160 0.44\\ 180 0.47\\ 195 0.38\\ 210 0.3\\
225 0.34\\ 245 0.38\\ 260 0.41\\ 280 0.48\\ 295 0.54\\ 310 0.59\\ 325 0.66\\ 340 0.78\\ 350 0.85\\ 360 0.76\\ 372 0.7\\
385 0.64\\ 400 0.6\\ 420 0.56\\ 435 0.52\\ 455 0.48\\ 470 0.44\\ 485 0.4\\ 500 0.36\\ 520 0.32\\ 540 0.29\\ 560 0.24\\
585 0.18\\ 610 0.12\\ 635 0.12\\ 660 0.1\\ 680 0.12\\ 700 0.12\\ 705 0.24\\ 710 0.2\\ 715 0.05\\ 720 0.0\\ 745 -0.06\\
760 -0.09\\ 780 -0.12\\ 800 -0.1\\ 825 -0.07\\ 850 -0.06\\ 880 -0.08\\ 915 -0.09\\ 960 -0.1\\ 995 -0.12\\ 1030 -0.15\\
1060 -0.18\\ 1090 -0.22\\ 1120 -0.26\\ 1150 -0.3\\ 1185 -0.33\\ 1210 -0.3\\ 1240 -0.26\\ 1270 -0.23\\ 1300 -0.2\\
1325 -0.19\\ 1350 -0.18\\ 1380 -0.2\\ 1410 -0.22\\ 1435 -0.23\\ 1450 -0.32\\ 1465 -0.4\\ 1475 -0.44\\ 1485 -0.34\\
1495 -0.23\\ 1515 -0.2\\ 1535 -0.19\\ 1560 -0.18\\ 1595 -0.15\\ 1630 -0.12\\ 1665 -0.14\\ 1700 -0.16\\ 1730 -0.18\\
1765 -0.15\\ 1800 -0.12\\ 1840 -0.1\\ 1870 -0.08\\ 1905 -0.07\\ 1940 -0.06\\ 1975 -0.08\\ 2010 -0.09\\ 2045 -0.1\\
2080 -0.08\\ 2110 -0.07\\ 2145 -0.06\\ 2170 -0.12\\ 2190 -0.18\\ 2210 -0.23\\ 2240 -0.27\\ 2275 -0.3\\ 2300 -0.31\\
2330 -0.3\\ 2360 -0.3\\ 2380 -0.25\\ 2400 -0.18\\
};
% WEP
\addplot[trace] table[row sep=\\, y expr=\thisrowno{1}-17] {
0 -0.23\\ 15 -0.2\\ 30 -0.24\\ 40 -0.15\\ 50 -0.18\\ 65 -0.22\\ 80 -0.23\\ 100 -0.21\\ 120 -0.23\\ 130 -0.19\\ 140 -0.2\\
155 -0.24\\ 165 -0.3\\ 168 -0.75\\ 172 -0.25\\ 180 -0.28\\ 190 -0.36\\ 205 -0.47\\
};
\addplot[trace] table[row sep=\\, y expr=\thisrowno{1}-17] {
222 0.0\\ 224 -0.2\\ 228 -0.18\\
};
\addplot[trace] table[row sep=\\, y expr=\thisrowno{1}-17] {
234 -0.82\\ 236 0.55\\ 245 0.55\\ 258 0.6\\ 270 0.65\\ 278 0.62\\ 280 0.85\\ 282 0.62\\ 290 0.6\\ 300 0.6\\ 310 0.62\\
320 0.65\\ 332 0.75\\ 345 0.88\\ 355 0.72\\ 365 0.55\\ 385 0.5\\ 410 0.45\\ 430 0.42\\ 450 0.36\\ 470 0.3\\ 490 0.24\\
515 0.16\\ 540 0.1\\ 560 0.14\\ 580 0.18\\ 600 0.12\\ 620 0.06\\ 640 0.05\\ 660 0.03\\ 680 0.0\\ 700 -0.03\\ 706 0.06\\
712 -0.08\\ 720 -0.1\\ 740 -0.14\\ 760 -0.18\\ 780 -0.23\\ 800 -0.2\\ 825 -0.17\\ 850 -0.15\\ 880 -0.08\\ 920 0.0\\
960 0.06\\ 995 0.0\\ 1030 -0.06\\ 1060 -0.12\\ 1090 -0.15\\ 1120 -0.18\\ 1150 -0.2\\ 1185 -0.23\\ 1210 -0.2\\
1240 -0.18\\ 1270 -0.15\\ 1300 -0.1\\ 1325 -0.05\\ 1350 0.0\\ 1380 -0.02\\ 1410 -0.04\\ 1435 -0.06\\ 1450 -0.15\\
1465 -0.24\\ 1475 -0.29\\ 1485 -0.18\\ 1495 -0.06\\ 1520 -0.02\\ 1560 0.0\\ 1595 0.02\\ 1630 0.03\\ 1665 -0.02\\
1700 -0.06\\ 1730 -0.1\\ 1760 -0.06\\ 1800 0.0\\ 1840 0.06\\ 1870 0.04\\ 1905 0.02\\ 1940 0.0\\ 1975 0.02\\ 2010 0.03\\
2045 0.03\\ 2080 0.05\\ 2120 0.04\\ 2160 0.06\\ 2190 0.0\\ 2215 -0.05\\ 2240 -0.1\\ 2260 -0.13\\ 2280 -0.15\\
2310 -0.12\\ 2335 -0.06\\ 2360 0.0\\ 2380 0.04\\ 2400 0.06\\
};
% LMT
\addplot[trace] table[row sep=\\, y expr=\thisrowno{1}-18] {
0 -0.14\\ 15 -0.18\\ 30 -0.2\\ 45 -0.22\\ 60 -0.23\\ 75 -0.2\\ 90 -0.17\\ 110 -0.14\\ 130 -0.16\\ 150 -0.13\\ 165 -0.15\\
180 -0.14\\ 200 -0.19\\ 215 -0.23\\ 230 -0.16\\ 245 -0.1\\ 260 -0.06\\ 275 -0.08\\ 290 -0.1\\ 295 -0.1\\ 297 -0.35\\
300 0.02\\ 315 0.06\\ 330 0.14\\ 345 0.26\\ 352 0.15\\ 360 0.06\\ 375 0.1\\ 390 0.12\\ 410 0.14\\ 430 0.1\\ 450 0.06\\
468 0.1\\ 485 0.12\\ 500 0.08\\ 515 0.05\\ 530 0.02\\ 550 0.07\\ 570 0.12\\ 590 0.0\\ 610 -0.14\\ 625 -0.1\\ 640 -0.06\\
660 -0.06\\ 680 0.0\\ 700 0.06\\ 705 0.0\\ 710 -0.1\\ 730 -0.13\\ 755 -0.15\\ 780 -0.14\\ 800 -0.12\\ 825 -0.06\\
850 0.0\\ 875 0.02\\ 900 0.05\\ 930 0.08\\ 960 0.1\\ 995 0.02\\ 1030 -0.06\\ 1060 -0.12\\ 1090 -0.1\\ 1120 -0.12\\
1150 -0.13\\ 1185 -0.14\\ 1210 -0.11\\ 1240 -0.08\\ 1270 -0.06\\ 1300 -0.02\\ 1325 0.02\\ 1350 0.06\\ 1380 0.04\\
1410 0.02\\ 1435 0.0\\ 1450 -0.08\\ 1465 -0.18\\ 1475 -0.23\\ 1485 -0.05\\ 1500 0.12\\ 1505 0.2\\ 1510 0.23\\
1525 0.16\\ 1540 0.12\\ 1560 0.06\\ 1590 0.08\\ 1610 0.1\\ 1630 0.1\\ 1650 0.04\\ 1680 0.03\\ 1705 0.06\\ 1730 0.0\\
1760 0.04\\ 1785 0.08\\ 1810 0.1\\ 1840 0.12\\ 1855 0.08\\ 1870 0.15\\ 1885 0.06\\ 1910 0.04\\ 1940 0.03\\ 1965 0.06\\
1990 0.04\\ 2015 0.09\\ 2045 0.08\\ 2070 0.04\\ 2100 0.03\\ 2130 0.06\\ 2160 0.02\\ 2190 0.04\\ 2220 0.02\\ 2250 0.03\\
2280 0.02\\ 2310 0.0\\ 2335 0.01\\ 2360 -0.02\\ 2380 0.0\\ 2400 -0.02\\
};
% DAL
\addplot[trace] table[row sep=\\, y expr=\thisrowno{1}-19] {
0 0.0\\ 20 0.01\\ 45 -0.01\\ 70 -0.03\\ 95 -0.07\\ 120 -0.1\\ 150 -0.12\\ 180 -0.15\\ 205 -0.17\\ 230 -0.2\\ 260 -0.24\\
285 -0.27\\ 310 -0.33\\ 330 -0.36\\ 350 -0.39\\ 365 -0.32\\ 385 -0.2\\ 410 -0.12\\ 435 -0.03\\ 455 0.05\\ 465 0.15\\
475 0.22\\ 485 0.14\\ 495 0.08\\ 520 0.1\\ 550 0.08\\ 570 0.14\\ 590 0.2\\ 610 0.12\\ 630 0.08\\ 650 0.14\\ 670 0.22\\
690 0.31\\ 710 0.28\\ 730 0.24\\ 750 0.2\\ 780 0.22\\ 810 0.25\\ 825 0.28\\ 835 0.32\\ 840 0.3\\ 850 0.18\\ 880 0.14\\
920 0.1\\ 960 0.08\\ 995 0.12\\ 1030 0.16\\ 1060 0.18\\ 1090 0.16\\ 1120 0.18\\ 1150 0.17\\ 1185 0.18\\ 1210 0.16\\
1240 0.14\\ 1270 0.12\\ 1300 0.06\\ 1335 0.0\\ 1370 0.02\\ 1400 0.03\\ 1430 0.06\\ 1455 0.1\\ 1475 0.12\\ 1500 0.15\\
1530 0.18\\ 1550 0.2\\ 1570 0.2\\ 1580 0.14\\ 1590 0.06\\ 1600 -0.08\\ 1610 -0.18\\ 1620 -0.12\\ 1630 -0.04\\
1650 0.08\\ 1670 0.15\\ 1700 0.14\\ 1730 0.12\\ 1760 0.1\\ 1790 0.06\\ 1815 0.03\\ 1840 0.0\\ 1870 -0.02\\ 1905 -0.04\\
1940 -0.06\\ 1970 -0.03\\ 2000 0.0\\ 2020 -0.03\\ 2045 -0.06\\ 2080 -0.05\\ 2110 -0.06\\ 2150 -0.09\\ 2190 -0.12\\
2220 -0.15\\ 2250 -0.18\\ 2285 -0.22\\ 2320 -0.27\\ 2355 -0.33\\ 2380 -0.38\\ 2400 -0.43\\
};
% KAT
\addplot[trace] table[row sep=\\, y expr=\thisrowno{1}-20] {
0 -0.1\\ 15 -0.15\\ 30 -0.2\\ 45 -0.25\\ 60 -0.28\\ 80 -0.33\\ 95 -0.37\\ 110 -0.4\\ 130 -0.44\\ 150 -0.46\\ 165 -0.5\\
180 -0.52\\ 200 -0.55\\ 225 -0.56\\ 250 -0.58\\ 270 -0.56\\ 290 -0.5\\ 310 -0.46\\ 330 -0.42\\ 350 -0.37\\ 355 -0.48\\
360 -0.58\\ 385 -0.55\\ 410 -0.58\\ 435 -0.55\\ 460 -0.6\\ 485 -0.63\\ 505 -0.68\\ 530 -0.73\\ 540 -0.6\\ 550 -0.46\\
570 -0.36\\ 590 -0.28\\ 610 -0.4\\ 630 -0.52\\ 650 -0.35\\ 670 -0.12\\ 690 0.07\\ 700 -0.02\\ 710 -0.1\\ 740 -0.16\\
760 -0.2\\ 780 -0.22\\ 800 -0.12\\ 825 0.0\\ 850 0.12\\ 880 0.16\\ 920 0.2\\ 960 0.24\\ 995 0.18\\ 1030 0.14\\
1060 0.12\\ 1090 0.1\\ 1120 0.07\\ 1150 0.05\\ 1185 0.03\\ 1210 0.06\\ 1240 0.1\\ 1270 0.12\\ 1300 0.17\\ 1325 0.21\\
1350 0.24\\ 1380 0.22\\ 1410 0.2\\ 1435 0.18\\ 1450 0.12\\ 1465 0.04\\ 1475 0.0\\ 1485 0.25\\ 1495 0.48\\ 1510 0.4\\
1530 0.3\\ 1545 0.26\\ 1560 0.24\\ 1580 0.22\\ 1600 0.2\\ 1620 0.24\\ 1640 0.28\\ 1660 0.22\\ 1680 0.18\\ 1705 0.2\\
1730 0.2\\ 1760 0.22\\ 1800 0.2\\ 1840 0.24\\ 1870 0.21\\ 1905 0.2\\ 1940 0.18\\ 1975 0.21\\ 2010 0.22\\ 2045 0.24\\
2080 0.2\\ 2110 0.19\\ 2145 0.18\\ 2180 0.17\\ 2215 0.16\\ 2250 0.15\\ 2290 0.14\\ 2325 0.13\\ 2360 0.12\\ 2380 0.1\\
2400 0.08\\
};
% CAN
\addplot[trace] table[row sep=\\, y expr=\thisrowno{1}-21] {
0 -0.69\\ 20 -0.7\\ 40 -0.73\\ 60 -0.75\\ 80 -0.78\\ 95 -0.82\\ 110 -0.84\\ 130 -0.8\\ 145 -0.77\\ 160 -0.75\\ 180 -0.77\\
200 -0.8\\ 215 -0.81\\ 230 -0.72\\ 245 -0.64\\ 260 -0.57\\ 275 -0.52\\ 290 -0.47\\ 310 -0.4\\ 320 -0.25\\ 330 -0.05\\
340 0.04\\ 350 0.1\\ 355 -0.05\\ 360 -0.22\\ 385 -0.25\\ 410 -0.28\\ 435 -0.2\\ 460 -0.1\\ 480 -0.12\\ 505 -0.18\\
530 -0.22\\ 540 -0.05\\ 550 0.12\\ 570 0.22\\ 590 0.29\\ 610 0.18\\ 630 0.06\\ 650 0.15\\ 670 0.23\\ 685 0.3\\ 700 0.41\\
720 0.32\\ 740 0.25\\ 760 0.2\\ 780 0.18\\ 815 0.19\\ 850 0.2\\ 885 0.22\\ 920 0.26\\ 960 0.3\\ 995 0.26\\ 1030 0.21\\
1060 0.18\\ 1090 0.16\\ 1120 0.14\\ 1150 0.13\\ 1185 0.12\\ 1210 0.14\\ 1240 0.16\\ 1270 0.18\\ 1300 0.22\\ 1325 0.26\\
1350 0.3\\ 1380 0.25\\ 1410 0.21\\ 1435 0.18\\ 1450 0.12\\ 1465 0.05\\ 1475 0.0\\ 1485 0.15\\ 1495 0.3\\ 1515 0.27\\
1535 0.25\\ 1560 0.24\\ 1595 0.24\\ 1630 0.24\\ 1665 0.22\\ 1700 0.2\\ 1730 0.18\\ 1765 0.16\\ 1800 0.14\\ 1840 0.12\\
1870 0.14\\ 1905 0.16\\ 1940 0.18\\ 1975 0.16\\ 2010 0.14\\ 2045 0.12\\ 2065 0.09\\ 2085 0.06\\ 2115 0.0\\ 2145 -0.06\\
2180 -0.14\\ 2215 -0.22\\ 2250 -0.29\\ 2285 -0.35\\ 2320 -0.4\\ 2355 -0.47\\ 2380 -0.51\\ 2400 -0.55\\
};
% MCQ
\addplot[trace] table[row sep=\\, y expr=\thisrowno{1}-22] {
0 -0.1\\ 15 -0.14\\ 30 -0.17\\ 45 -0.2\\ 60 -0.22\\ 75 -0.2\\ 90 -0.18\\ 110 -0.16\\ 125 -0.12\\ 145 -0.1\\ 160 -0.08\\
180 -0.1\\ 200 -0.11\\ 215 -0.1\\ 230 -0.06\\ 245 -0.02\\ 260 0.02\\ 280 0.04\\ 295 0.06\\ 310 0.08\\ 318 0.05\\ 325 0.02\\
335 0.2\\ 345 0.42\\ 355 0.6\\ 365 0.52\\ 375 0.44\\ 385 0.37\\ 410 0.35\\ 435 0.37\\ 460 0.44\\ 485 0.49\\ 500 0.42\\
515 0.3\\ 530 0.19\\ 545 0.28\\ 560 0.4\\ 575 0.5\\ 590 0.55\\ 610 0.52\\ 630 0.5\\ 650 0.54\\ 670 0.58\\ 690 0.6\\
710 0.55\\ 730 0.48\\ 750 0.43\\ 770 0.5\\ 790 0.55\\ 810 0.45\\ 830 0.35\\ 850 0.26\\ 880 0.2\\ 920 0.12\\ 960 0.08\\
995 0.08\\ 1030 0.09\\ 1060 0.1\\ 1070 0.2\\ 1080 0.28\\ 1090 0.15\\ 1100 0.02\\ 1110 -0.07\\ 1130 -0.12\\ 1160 -0.2\\
1185 -0.24\\ 1210 -0.2\\ 1240 -0.19\\ 1270 -0.18\\ 1300 -0.2\\ 1325 -0.22\\ 1350 -0.24\\ 1380 -0.23\\ 1410 -0.24\\
1420 -0.3\\ 1435 -0.38\\ 1445 -0.55\\ 1455 -0.74\\ 1462 -0.6\\ 1470 -0.5\\ 1480 -0.44\\ 1495 -0.38\\ 1510 -0.2\\
1535 -0.17\\ 1560 -0.15\\ 1595 -0.14\\ 1630 -0.12\\ 1665 -0.1\\ 1700 -0.08\\ 1730 -0.05\\ 1745 -0.12\\ 1760 -0.18\\
1775 -0.08\\ 1790 -0.06\\ 1805 -0.15\\ 1820 -0.2\\ 1830 -0.1\\ 1840 -0.1\\ 1855 -0.18\\ 1870 -0.22\\ 1880 -0.1\\
1890 -0.12\\ 1905 -0.2\\ 1920 -0.24\\ 1930 -0.12\\ 1940 -0.15\\ 1955 -0.22\\ 1970 -0.12\\ 1985 -0.18\\ 2000 -0.15\\
2020 -0.2\\ 2045 -0.15\\ 2070 -0.18\\ 2095 -0.13\\ 2120 -0.17\\ 2145 -0.15\\ 2175 -0.18\\ 2200 -0.16\\ 2225 -0.19\\
2250 -0.17\\ 2280 -0.2\\ 2310 -0.21\\ 2340 -0.23\\ 2370 -0.25\\ 2400 -0.27\\
};
\end{axis}
\begin{scope}[x=0.75pt, y=-0.75pt]
\node[font=\ttlfont\fontsize{14.8}{17}\selectfont] at (525,14) {210 MM Magnetic Field Data, 1-min Averages};
\node[font=\ttlfont\fontsize{14.4}{17}\selectfont] at (525,40) {Feb 15 1999 Day\ \ 46};
\node[font=\widettl\fontsize{14.6}{17}\selectfont] at (517,65) {H Comp.\quad 200nT/div(KTN,TIK,CHD,KOT,ZYK,MCQ)\quad 50nT/div(Others)};
\node[font=\smallfont\fontsize{9.75}{12}\selectfont] at (525,807) {Universal Time};
\node[font=\smallfont\fontsize{9}{11}\selectfont, anchor=west] at (6,826) {210plot\hspace{16pt}Thu Nov\ \ 4 10:11:02 1999};
\end{scope}
\end{tikzpicture}
\end{document}
